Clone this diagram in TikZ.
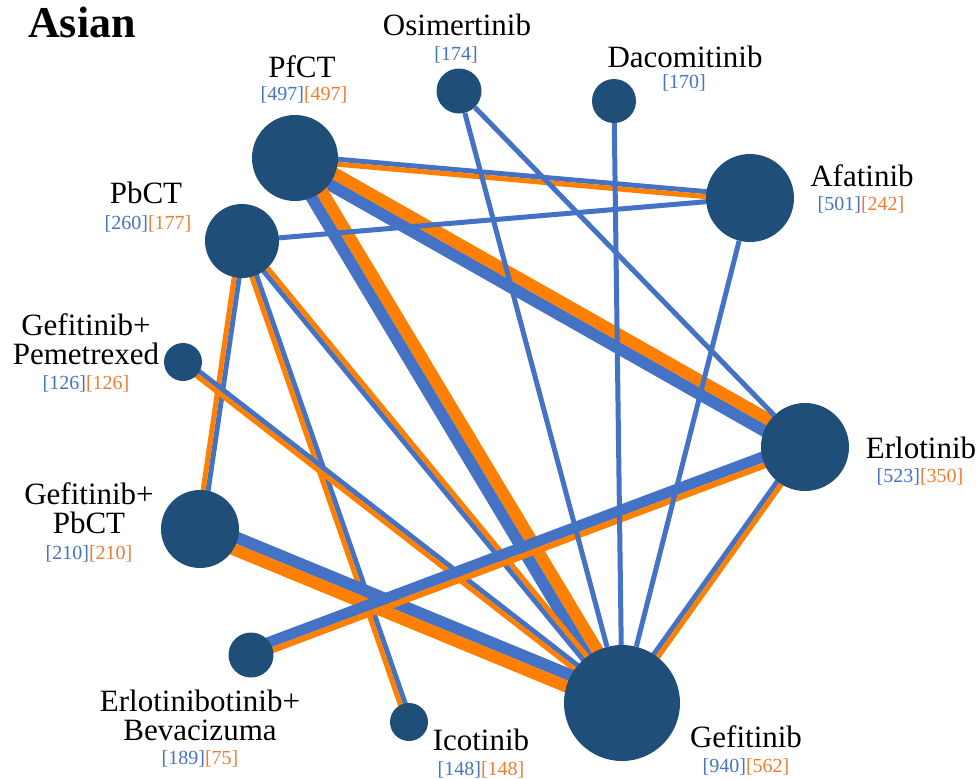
\documentclass[tikz,border=0pt]{standalone}
\usepackage{fontspec}
\setmainfont{Liberation Serif}
\usetikzlibrary{calc,
                backgrounds}
\definecolor{ndark}{RGB}{31,78,121}
\definecolor{eblue}{RGB}{68,114,196}
\definecolor{eorange}{RGB}{255,127,0}
\definecolor{torange}{RGB}{237,125,49}
\tikzset{
    drug/.style = {circle, fill=ndark, inner sep=0pt, minimum size=#1},
     lbl/.style = {font=\fontsize{31}{29}\selectfont, align=center,
                   inner sep=0pt, anchor=base},
    nums/.style = {font=\fontsize{20}{20}\selectfont, inner sep=0pt, anchor=base},
   bline/.style = {draw=eblue, line width=#1},
   oline/.style = {draw=eorange, line width=#1}
        }
\newcommand{\cntb}[1]{\textcolor{eblue}{[#1]}}
\newcommand{\cnto}[1]{\textcolor{torange}{[#1]}}

\begin{document}
\begin{tikzpicture}[x=1pt, y=-1pt]
\useasboundingbox (0,0) rectangle (980,779);
% treatments
\node [drug=86pt]  (PfCT)   at (295,158) {};
\node [drug=74pt]  (PbCT)   at (242,241) {};
\node [drug=45pt]  (Osi)    at (459,91)  {};
\node [drug=44pt]  (Daco)   at (614,101) {};
\node [drug=88pt]  (Afa)    at (750,198) {};
\node [drug=88pt]  (Erlo)   at (805,447) {};
\node [drug=116pt] (Gef)    at (622,703) {};
\node [drug=38pt]  (Ico)    at (409,722) {};
\node [drug=45pt]  (ErBev)  at (251,655) {};
\node [drug=78pt]  (GefPb)  at (200,529) {};
\node [drug=38pt]  (GefPem) at (183,362) {};
% comparisons, blue and orange side by side
\begin{scope}[on background layer]
\draw [bline=5pt]  ($(PfCT)!2.5pt!90:(Afa)$) -- ($(Afa)!2.5pt!-90:(PfCT)$);
\draw [oline=5pt]  ($(PfCT)!2.5pt!-90:(Afa)$) -- ($(Afa)!2.5pt!90:(PfCT)$);
\draw [bline=12pt] ($(PfCT)!6pt!-90:(Erlo)$) -- ($(Erlo)!6pt!90:(PfCT)$);
\draw [oline=12pt] ($(PfCT)!6pt!90:(Erlo)$) -- ($(Erlo)!6pt!-90:(PfCT)$);
\draw [bline=12pt] ($(PfCT)!6pt!-90:(Gef)$) -- ($(Gef)!6pt!90:(PfCT)$);
\draw [oline=12pt] ($(PfCT)!6pt!90:(Gef)$) -- ($(Gef)!6pt!-90:(PfCT)$);
\draw [bline=5pt]  (PbCT) -- (Afa);
\draw [bline=5pt]  ($(PbCT)!2.5pt!90:(GefPb)$) -- ($(GefPb)!2.5pt!-90:(PbCT)$);
\draw [oline=5pt]  ($(PbCT)!2.5pt!-90:(GefPb)$) -- ($(GefPb)!2.5pt!90:(PbCT)$);
\draw [bline=5pt]  ($(PbCT)!2.5pt!90:(Ico)$) -- ($(Ico)!2.5pt!-90:(PbCT)$);
\draw [oline=5pt]  ($(PbCT)!2.5pt!-90:(Ico)$) -- ($(Ico)!2.5pt!90:(PbCT)$);
\draw [bline=5pt]  ($(PbCT)!2.5pt!-90:(Gef)$) -- ($(Gef)!2.5pt!90:(PbCT)$);
\draw [oline=5pt]  ($(PbCT)!2.5pt!90:(Gef)$) -- ($(Gef)!2.5pt!-90:(PbCT)$);
\draw [bline=5pt]  ($(GefPem)!2.5pt!90:(Gef)$) -- ($(Gef)!2.5pt!-90:(GefPem)$);
\draw [oline=5pt]  ($(GefPem)!2.5pt!-90:(Gef)$) -- ($(Gef)!2.5pt!90:(GefPem)$);
\draw [bline=12pt] ($(GefPb)!6pt!90:(Gef)$) -- ($(Gef)!6pt!-90:(GefPb)$);
\draw [oline=12pt] ($(GefPb)!6pt!-90:(Gef)$) -- ($(Gef)!6pt!90:(GefPb)$);
\draw [bline=11pt] ($(ErBev)!5.5pt!90:(Erlo)$) -- ($(Erlo)!5.5pt!-90:(ErBev)$);
\draw [oline=6pt]  ($(ErBev)!3pt!-90:(Erlo)$) -- ($(Erlo)!3pt!90:(ErBev)$);
\draw [bline=5pt]  ($(Erlo)!2.5pt!-90:(Gef)$) -- ($(Gef)!2.5pt!90:(Erlo)$);
\draw [oline=5pt]  ($(Erlo)!2.5pt!90:(Gef)$) -- ($(Gef)!2.5pt!-90:(Erlo)$);
\draw [bline=5pt]  (Afa) -- (Gef);
\draw [bline=5pt]  (Daco) -- (Gef);
\draw [bline=5pt]  (Osi) -- (Gef);
\draw [bline=5pt]  (Osi) -- (Erlo);
\end{scope}
% labels
\node [lbl, font=\bfseries\fontsize{44}{44}\selectfont] (title) at (82,37) {Asian};
\node [lbl]  (OsiT)    at (457,35)  {Osimertinib};
\node [nums] (OsiN)    at (456,60)  {\cntb{174}};
\node [lbl]  (DacoT)   at (685,67)  {Dacomitinib};
\node [nums] (DacoN)   at (684,88)  {\cntb{170}};
\node [lbl]  (PfCTT)   at (302,77)  {PfCT};
\node [nums] (PfCTN)   at (304,100) {\cntb{497}\cnto{497}};
\node [lbl]  (PbCTT)   at (146,203) {PbCT};
\node [nums] (PbCTN)   at (148,229) {\cntb{260}\cnto{177}};
\node [lbl]  (AfaT)    at (862,186) {Afatinib};
\node [nums] (AfaN)    at (861,210) {\cntb{501}\cnto{242}};
\node [lbl]  (ErloT)   at (921,458) {Erlotinib};
\node [nums] (ErloN)   at (920,482) {\cntb{523}\cnto{350}};
\node [lbl]  (GefPemT) at (86,364)  {Gefitinib+\\Pemetrexed};
\node [nums] (GefPemN) at (86,389)  {\cntb{126}\cnto{126}};
\node [lbl]  (GefPbT)  at (89,533)  {Gefitinib+\\PbCT};
\node [nums] (GefPbN)  at (89,559)  {\cntb{210}\cnto{210}};
\node [lbl]  (ErBevT)  at (200,740) {Erlotinibotinib+\\Bevacizuma};
\node [nums] (ErBevN)  at (200,764) {\cntb{189}\cnto{75}};
\node [lbl]  (IcoT)    at (481,750) {Icotinib};
\node [nums] (IcoN)    at (481,775) {\cntb{148}\cnto{148}};
\node [lbl]  (GefT)    at (746,747) {Gefitinib};
\node [nums] (GefN)    at (746,772) {\cntb{940}\cnto{562}};
\end{tikzpicture}
\end{document}
